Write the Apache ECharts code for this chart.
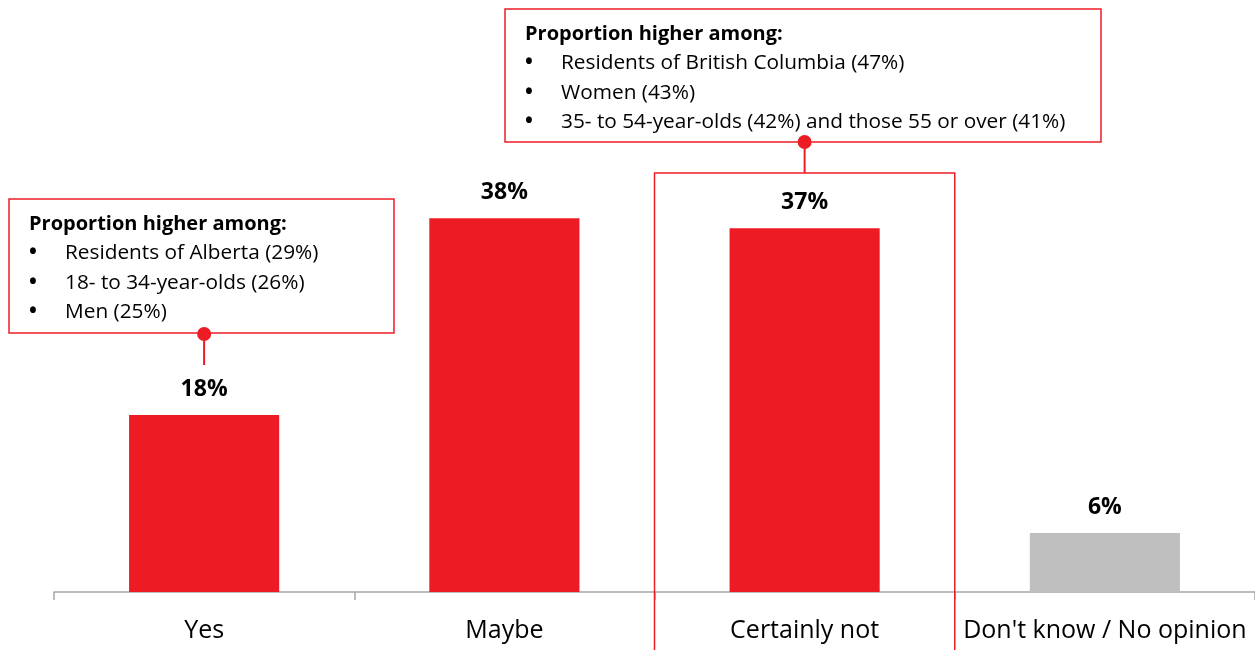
<!DOCTYPE html>
<html>
<head>
<meta charset="utf-8">
<script src="https://cdn.jsdelivr.net/npm/echarts@6/dist/echarts.min.js"></script>
<style>
  html, body { margin: 0; padding: 0; background: #fff; }
  #chart { width: 1255px; height: 650px; }
</style>
</head>
<body>
<div id="chart"></div>
<script>
  // data
  var categories = ['Yes', 'Maybe', 'Certainly not', "Don't know / No opinion"]
  var values = [18, 38, 37, 6]
  var barColors = ['#ED1C24', '#ED1C24', '#ED1C24', '#BFBFBF']

  var noteYesTitle = 'Proportion higher among:'
  var noteYesItems = ['Residents of Alberta (29%)', '18- to 34-year-olds (26%)', 'Men (25%)']
  var noteNotTitle = 'Proportion higher among:'
  var noteNotItems = ['Residents of British Columbia (47%)', 'Women (43%)', '35- to 54-year-olds (42%) and those 55 or over (41%)']

  var FONT = '"Open Sans", sans-serif'
  var RED = '#ED1C24'

  var chart = echarts.init(document.getElementById('chart'))

  var option = {
    animation: false,
    grid: { left: 54, right: 0, top: 2, bottom: 58 },
    xAxis: {
      type: 'category',
      data: categories,
      axisLine: { lineStyle: { color: '#A6A6A6', width: 1.5 } },
      axisTick: { show: true, length: 8, lineStyle: { color: '#A6A6A6', width: 1.5 } },
      axisLabel: { color: '#000', fontSize: 25, fontFamily: FONT, margin: 26, interval: 0 }
    },
    yAxis: {
      type: 'value',
      min: 0,
      max: 60,
      show: false,
      splitLine: { show: false }
    },
    series: [{
      type: 'bar',
      barWidth: '50%',
      data: values.map(function (v, i) {
        return { value: v, itemStyle: { color: barColors[i] } }
      }),
      label: {
        show: true,
        position: 'top',
        distance: 14,
        formatter: '{c}%',
        color: '#000',
        fontSize: 23,
        fontWeight: 'bold',
        fontFamily: FONT
      }
    }]
  }
  chart.setOption(option)

  // annotation boxes
  function noteBox (x, y, w, h, title, items) {
    var kids = [{
      type: 'rect',
      shape: { x: x, y: y, width: w, height: h },
      style: { fill: '#fff', stroke: RED, lineWidth: 1.5 }
    }, {
      type: 'text',
      x: x + 20, y: y + 25,
      style: { text: title, font: 'bold 20px ' + FONT, fill: '#000', verticalAlign: 'middle' }
    }]
    items.forEach(function (t, i) {
      var ly = y + 25 + (i + 1) * 29.3
      kids.push({
        type: 'text', x: x + 20, y: ly,
        style: { text: '•', font: 'bold 21px ' + FONT, fill: '#000', verticalAlign: 'middle' }
      })
      kids.push({
        type: 'text', x: x + 56, y: ly,
        style: { text: t, font: '20.8px ' + FONT, fill: '#000', verticalAlign: 'middle' }
      })
    })
    return kids
  }

  var yesX = chart.convertToPixel({ xAxisIndex: 0 }, categories[0])
  var notX = chart.convertToPixel({ xAxisIndex: 0 }, categories[2])
  var band = (1255 - 54) / categories.length

  var elements = []
  // highlight box around "Certainly not"
  elements.push({
    type: 'rect',
    shape: { x: notX - band / 2, y: 173, width: band, height: 500 },
    style: { fill: 'none', stroke: RED, lineWidth: 1.5 },
    z: 10
  })
  elements = elements.concat(noteBox(9, 199, 385, 134, noteYesTitle, noteYesItems))
  elements = elements.concat(noteBox(505, 9, 596, 133, noteNotTitle, noteNotItems))
  // connectors
  elements.push({ type: 'line', shape: { x1: yesX, y1: 334, x2: yesX, y2: 365 }, style: { stroke: RED, lineWidth: 2 } })
  elements.push({ type: 'circle', shape: { cx: yesX, cy: 334, r: 7 }, style: { fill: RED } })
  elements.push({ type: 'line', shape: { x1: notX, y1: 142, x2: notX, y2: 173 }, style: { stroke: RED, lineWidth: 2 } })
  elements.push({ type: 'circle', shape: { cx: notX, cy: 142, r: 7 }, style: { fill: RED } })

  chart.setOption({ graphic: elements })
</script>
</body>
</html>
